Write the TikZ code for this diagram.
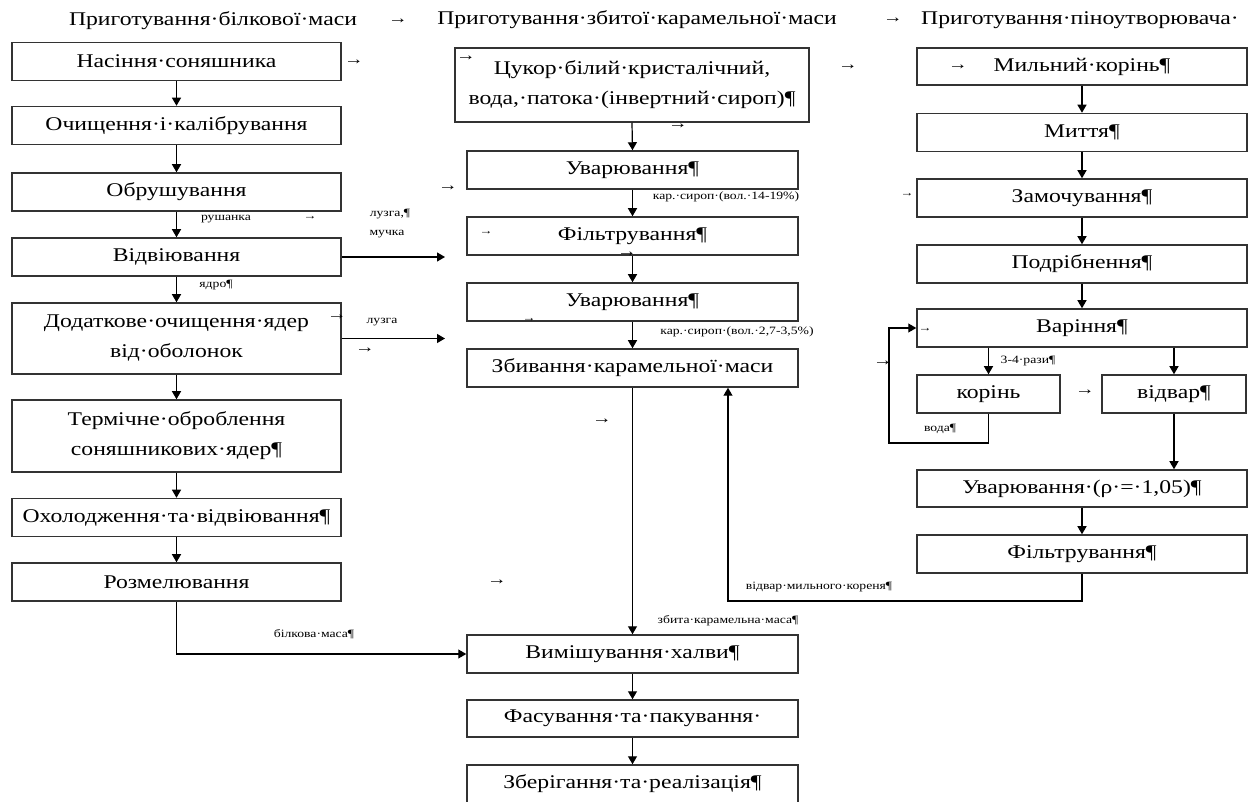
\documentclass[tikz,border=0pt]{standalone}
\usepackage{fontspec}
\setmainfont{Liberation Serif}[FakeStretch=1.22]
\usetikzlibrary{arrows.meta}

\tikzset{
	stage/.style={draw=black!80, line width=0.75pt, minimum width=#1, minimum height=19pt,
		inner sep=0pt, align=center, font=\fontsize{9.7}{15}\selectfont},
	stage/.default=164.5pt,
	flow/.style={line width=0.6pt, -{Triangle[length=4pt,width=4.5pt]}},
	note/.style={inner sep=0pt, font=\fontsize{5.6}{6}\selectfont},
	tabmark/.style={inner sep=0pt, font=\fontsize{8}{8}\selectfont},
	tabsmall/.style={inner sep=0pt, font=\fontsize{5.5}{6}\selectfont},
	head/.style={inner sep=0pt, font=\fontsize{9.7}{11}\selectfont}
}

\begin{document}
\begin{tikzpicture}[x=0.5pt, y=-0.5pt]

\useasboundingbox (0,0) rectangle (1260,802);

% headers
\node[head] (h1) at (213,21) {Приготування·білкової·маси};
\node[head] (h2) at (637,20) {Приготування·збитої·карамельної·маси};
\node[head] (h3) at (1080,20) {Приготування·піноутворювача·};

% left column
\node[stage] (n1) at (176.5,61.5) {Насіння·соняшника};
\node[stage] (n2) at (176.5,125.5) {Очищення·і·калібрування};
\node[stage] (n3) at (176.5,192) {Обрушування};
\node[stage] (n4) at (176.5,257) {Відвіювання};
\node[stage, minimum height=35.5pt] (n5) at (176.5,338.5) {Додаткове·очищення·ядер\\від·оболонок};
\node[stage, minimum height=36pt] (n6) at (176.5,436) {Термічне·оброблення\\соняшникових·ядер¶};
\node[stage] (n7) at (176.5,517.5) {Охолодження·та·відвіювання¶};
\node[stage] (n8) at (176.5,582) {Розмелювання};

% middle column
\node[stage=177pt, minimum height=37pt] (m1) at (632,85) {Цукор·білий·кристалічний,\\вода,·патока·(інвертний·сироп)¶};
\node[stage=165.5pt] (m2) at (632.5,170) {Уварювання¶};
\node[stage=165.5pt] (m3) at (632.5,236) {Фільтрування¶};
\node[stage=165.5pt] (m4) at (632.5,302) {Уварювання¶};
\node[stage=165.5pt] (m5) at (632.5,368) {Збивання·карамельної·маси};
\node[stage=165.5pt] (m6) at (632.5,654) {Вимішування·халви¶};
\node[stage=165.5pt, minimum height=18.5pt] (m7) at (632.5,718.5) {Фасування·та·пакування·};
\node[stage=165.5pt] (m8) at (632.5,784) {Зберігання·та·реалізація¶};

% right column
\node[stage=165pt, minimum height=18.5pt] (r1) at (1082,66.5) {Мильний·корінь¶};
\node[stage=165pt] (r2) at (1082,132.5) {Миття¶};
\node[stage=165pt] (r3) at (1082,198) {Замочування¶};
\node[stage=165pt] (r4) at (1082,264) {Подрібнення¶};
\node[stage=165pt] (r5) at (1082,328) {Варіння¶};
\node[stage=71.5pt] (r6) at (988.5,394) {корінь};
\node[stage=72pt] (r7) at (1174,394) {відвар¶};
\node[stage=165pt, minimum height=18.5pt] (r8) at (1082,488.5) {Уварювання·(ρ·=·1,05)¶};
\node[stage=165pt] (r9) at (1082,554) {Фільтрування¶};

% straight arrows
\foreach \a/\b in {n1/n2, n2/n3, n3/n4, n4/n5, n5/n6, n6/n7, n7/n8,
	m1/m2, m2/m3, m3/m4, m4/m5, m5/m6, m6/m7, m7/m8,
	r1/r2, r2/r3, r3/r4, r4/r5, r8/r9}
	\draw[flow] (\a.south) -- (\b.north);

\draw[flow] (r5.south -| r6.north) -- (r6.north);
\draw[flow] (r5.south -| r7.north) -- (r7.north);
\draw[flow] (r7.south) -- (r7.south |- r8.north);

% side streams
\coordinate (lz1) at (445,257);
\coordinate (lz2) at (445,338.5);
\coordinate (lp) at (889,443);
\coordinate (kb) at (728,601);
\draw[flow] (n4.east) -- (lz1);
\draw[flow] (n5.east) -- (lz2);
\draw[flow] (r6.south) |- (lp) |- (r5.west);
\draw[flow] (r9.south) |- (kb) -- (m5.south -| kb);
\draw[flow] (n8.south) |- (m6.west);

% labels
\node[note] (l1) at (390,214) {лузга,¶};
\node[note] (l2) at (387,234) {мучка};
\node[note] (l3) at (226,219) {рушанка};
\node[note] (l4) at (216,285) {ядро¶};
\node[note] (l5) at (382,322) {лузга};
\node[note] (l6) at (726,197) {кар.·сироп·(вол.·14-19\%)};
\node[note] (l7) at (737,332) {кар.·сироп·(вол.·2,7-3,5\%)};
\node[note] (l8) at (728,621) {збита·карамельна·маса¶};
\node[note] (l9) at (314,634) {білкова·маса¶};
\node[note] (l10) at (819,587) {відвар·мильного·кореня¶};
\node[note] (l11) at (940,429) {вода¶};
\node[note] (l12) at (1028,361) {3-4·рази¶};

% tab marks
\foreach \p [count=\i] in {(398,21), (893,20), (354,62), (466,58), (848,67),
	(958,67), (678,126), (448,188), (627,254), (337,317), (365,350),
	(602,421), (497,582), (883,363), (1085,392)}
	\node[tabmark] (t\i) at \p {→};
\foreach \p [count=\i] in {(310,218), (486,233), (529,320), (907,195), (925,330)}
	\node[tabsmall] (s\i) at \p {→};

\end{tikzpicture}
\end{document}
